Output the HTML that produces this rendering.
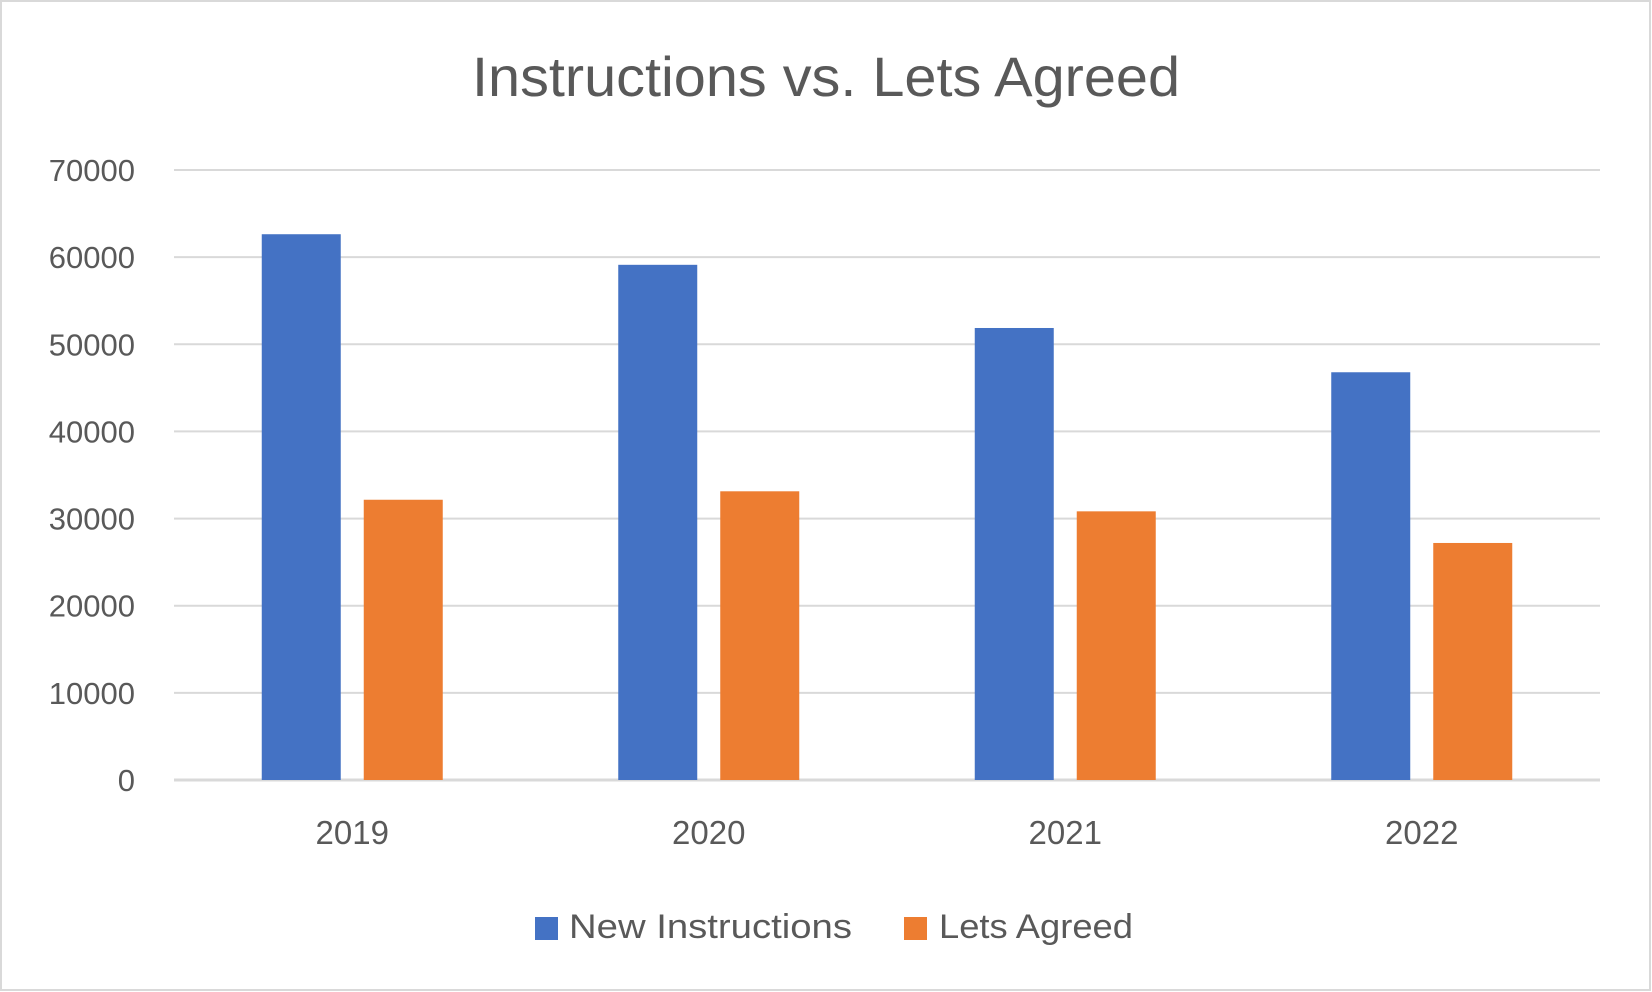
<!DOCTYPE html>
<html><head><meta charset="utf-8"><style>
html,body{margin:0;padding:0;background:#fff;}
svg{display:block;font-family:"Liberation Sans",sans-serif;}
</style></head><body>
<svg id="chart" width="1652" height="992" viewBox="0 0 1652 992">
<rect x="1" y="1" width="1649" height="989" fill="#fff" stroke="#d9d9d9" stroke-width="2"/>
<text x="826" y="96" text-anchor="middle" font-size="56" fill="#595959" textLength="708" lengthAdjust="spacingAndGlyphs">Instructions vs. Lets Agreed</text>
<g id="grid"></g><g id="bars"></g><g id="labels"></g>
<g>
<rect x="535" y="917" width="23" height="23" fill="#4472c4"/>
<text x="569" y="938" font-size="34" fill="#595959" textLength="283" lengthAdjust="spacingAndGlyphs">New Instructions</text>
<rect x="904" y="917" width="23" height="23" fill="#ed7d31"/>
<text x="939" y="938" font-size="34" fill="#595959" textLength="194" lengthAdjust="spacingAndGlyphs">Lets Agreed</text>
</g>
</svg>
<script>
const categories = ["2019","2020","2021","2022"];
const newInstructions = [62630, 59120, 51870, 46790];
const letsAgreed = [32160, 33130, 30830, 27200];
const yTicks = [0,10000,20000,30000,40000,50000,60000,70000];

const NS="http://www.w3.org/2000/svg";
const pLeft=174, pRight=1600, pTop=170, pBottom=780, yMax=70000;
const yScale=v=>pBottom-(v/yMax)*(pBottom-pTop);
const catW=(pRight-pLeft)/categories.length;
const barW=79, gap=23;
function mk(tag,attrs,parent){const e=document.createElementNS(NS,tag);for(const k in attrs)e.setAttribute(k,attrs[k]);parent.appendChild(e);return e;}
const gridG=document.getElementById('grid'), barsG=document.getElementById('bars'), labelsG=document.getElementById('labels');
yTicks.forEach(t=>{
  const l=mk('line',{x1:pLeft,x2:pRight,y1:yScale(t),y2:yScale(t),stroke:'#d9d9d9','stroke-width':t===0?3:2},gridG);
  
  
  const tx=mk('text',{x:135,y:yScale(t)+11,'text-anchor':'end','font-size':31,fill:'#595959'},labelsG);
  tx.textContent=String(t);
  
  
});
categories.forEach((c,i)=>{
  const cx=pLeft+catW*(i+0.5);
  const b1=mk('rect',{x:cx-gap/2-barW,y:yScale(newInstructions[i]),width:barW,height:pBottom-yScale(newInstructions[i]),fill:'#4472c4'},barsG);
  
  
  const b2=mk('rect',{x:cx+gap/2,y:yScale(letsAgreed[i]),width:barW,height:pBottom-yScale(letsAgreed[i]),fill:'#ed7d31'},barsG);
  
  
  const t=mk('text',{x:cx,y:844,'text-anchor':'middle','font-size':33,fill:'#595959'},labelsG);
  t.textContent=c;
  
  
});
</script>
</body></html>
